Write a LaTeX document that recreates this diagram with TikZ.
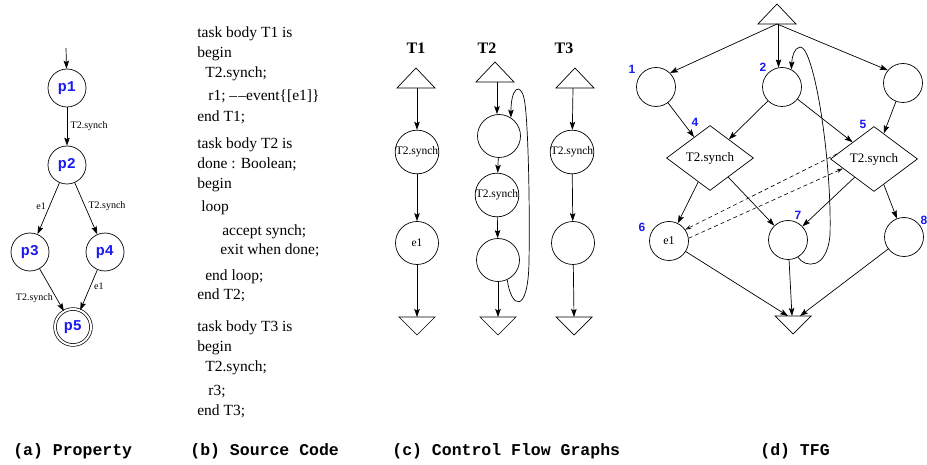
\documentclass[tikz,border=0pt]{standalone}
\usepackage{fontspec}
\setmainfont{Liberation Serif}
\setmonofont{Liberation Mono}
\newfontfamily\numfont{Liberation Sans}
\usetikzlibrary{arrows.meta,shapes.geometric}
\definecolor{stateblue}{RGB}{25,25,240}
\begin{document}
\begin{tikzpicture}[x=1pt,y=-1pt,line width=0.7pt,
  arr/.style={-{Stealth[length=8pt,width=5.5pt,inset=1.5pt]}},
  dasharr/.style={dash pattern=on 4pt off 3pt,-{Stealth[open,length=6pt,width=4pt]},line width=0.6pt},
  pnode/.style={circle,draw,minimum size=38pt,inner sep=0pt,text=stateblue,
    font=\ttfamily\bfseries\fontsize{15}{15}\selectfont},
  cnode/.style={circle,draw,minimum size=43pt,inner sep=0pt,font=\fontsize{11.5}{11.5}\selectfont},
  tnode/.style={circle,draw,minimum size=39pt,inner sep=0pt,font=\fontsize{12}{12}\selectfont},
  dnode/.style={diamond,draw,minimum width=87pt,minimum height=65pt,inner sep=0pt,
    font=\fontsize{13}{13}\selectfont},
  num/.style={text=stateblue,inner sep=0pt,font=\numfont\bfseries\fontsize{12}{12}\selectfont},
  elab/.style={font=\fontsize{10}{10}\selectfont},
  code/.style={anchor=base west,inner sep=0pt,font=\fontsize{15.5}{15.5}\selectfont},
  captext/.style={anchor=base west,inner sep=0pt,font=\ttfamily\bfseries\fontsize{16.5}{16.5}\selectfont},
  hdr/.style={font=\bfseries\fontsize{16}{16}\selectfont},
  uptri/.pic={\draw (-19,0) -- (0,-20) -- (19,0) -- cycle;},
  downtri/.pic={\draw (-18,0) -- (0,18) -- (18,0) -- cycle;}]

\useasboundingbox (0,0) rectangle (927,465);

% ---------- (a) property automaton ----------
\coordinate (pin) at (66,48);
\node[pnode] (p1) at (67,88) {p1};
\node[pnode] (p2) at (67,165) {p2};
\node[pnode] (p3) at (30,252) {p3};
\node[pnode] (p4) at (105,252) {p4};
\node[pnode,double,double distance=2pt,minimum size=36pt] (p5) at (73,327) {p5};
\draw[arr] (pin) -- (p1);
\draw[arr] (p1) -- node[elab,right] {T2.synch} (p2);
\draw[arr] (p2) -- node[elab,left,pos=0.45] {e1} (p3);
\draw[arr] (p2) -- node[elab,right,pos=0.45] {T2.synch} (p4);
\draw[arr] (p3) -- node[elab,left,pos=0.7] {T2.synch} (p5);
\draw[arr] (p4) -- node[elab,right,pos=0.4] {e1} (p5);

% ---------- (b) source code ----------
\node[code] (l1)  at (197,38)  {task body T1 is};
\node[code] (l2)  at (197,58)  {begin};
\node[code] (l3)  at (205,78)  {T2.synch;};
\node[code] (l4)  at (208,101) {r1; \textendash\kern1.2pt\textendash event\{[e1]\}};
\node[code] (l5)  at (197,122) {end T1;};
\node[code] (l6)  at (197,149) {task body T2 is};
\node[code] (l7)  at (197,169) {done : Boolean;};
\node[code] (l8)  at (197,189) {begin};
\node[code] (l9)  at (201,212) {loop};
\node[code] (l10) at (222,236) {accept synch;};
\node[code] (l11) at (220,255) {exit when done;};
\node[code] (l12) at (205,280) {end loop;};
\node[code] (l13) at (197,300) {end T2;};
\node[code] (l14) at (197,331) {task body T3 is};
\node[code] (l15) at (197,351) {begin};
\node[code] (l16) at (205,371) {T2.synch;};
\node[code] (l17) at (208,395) {r3;};
\node[code] (l18) at (197,415) {end T3;};

% ---------- (c) control flow graphs ----------
\node[hdr] (h1) at (416,48) {T1};
\node[hdr] (h2) at (487,48) {T2};
\node[hdr] (h3) at (564,48) {T3};
\pic at (416,88) {uptri};
\pic at (495,82) {uptri};
\pic at (575,88) {uptri};
\coordinate (s1) at (417,88);
\coordinate (s2) at (497,82);
\coordinate (s3) at (573,88);
\pic at (417,317) {downtri};
\pic at (498,317) {downtri};
\pic at (574,317) {downtri};
\coordinate (f1) at (417,317);
\coordinate (f2) at (498,317);
\coordinate (f3) at (574,317);

\node[cnode] (a1) at (417,152) {T2.synch};
\node[cnode] (a2) at (417,243) {e1};
\node[cnode] (b1) at (499,136) {};
\node[cnode] (b2) at (497,195) {T2.synch};
\node[cnode] (b3) at (498,260) {};
\node[cnode] (c1) at (572,152) {T2.synch};
\node[cnode] (c2) at (573,243) {};

\draw[arr] (s1) -- (a1);
\draw[arr] (a1) -- (a2);
\draw[arr] (a2) -- (f1);
\draw[arr] (s2) -- (s2 |- b1.north);
\draw[arr] (b1) -- (b2);
\draw[arr] (b2) -- (b3);
\draw[arr] (b3) -- (f2);
\draw[arr] (b3.-65) .. controls (511,308) and (528,316) .. (529,262)
  .. controls (530,200) and (528,115) .. (524,98)
  .. controls (520,82) and (511,88) .. (b1.57);
\draw[arr] (s3) -- (c1);
\draw[arr] (c1) -- (c2);
\draw[arr] (c2) -- (f3);

% ---------- (d) task flow graph ----------
\pic at (777,24) {uptri};
\coordinate (tt) at (777,24);
\pic at (793,316) {downtri};
\coordinate (bl) at (788,316);
\coordinate (bm) at (792,316);
\coordinate (br) at (800,316);

\node[tnode] (n1) at (656,87) {};
\node[tnode] (n2) at (782,87) {};
\node[tnode] (n3) at (903,83) {};
\node[dnode] (n4) at (710,158) {T2.synch};
\node[dnode] (n5) at (874,159) {T2.synch};
\node[tnode] (n6) at (669,241) {e1};
\node[tnode] (n7) at (788,240) {};
\node[tnode] (n8) at (904,237) {};

\node[num] (k1) at (632,69) {1};
\node[num] (k2) at (763,67) {2};
\node[num] (k3) at (932,68) {3};
\node[num] (k4) at (695,122) {4};
\node[num] (k5) at (863,124) {5};
\node[num] (k6) at (642,227) {6};
\node[num] (k7) at (798,215) {7};
\node[num] (k8) at (924,220) {8};

\draw[arr] (tt) -- (n1.45);
\draw[arr] (n2.100 |- tt) -- (n2.100);
\draw[arr] (tt) -- (n3.140);
\draw[arr] (n1) -- (n4);
\draw[arr] (n2) -- (n4);
\draw[arr] (n2) -- (n5);
\draw[arr] (n3) -- (n5);
\draw[arr] (n4) -- (n6);
\draw[arr] (n4) -- (n7);
\draw[arr] (n5) -- (n7);
\draw[arr] (n5) -- (n8);
\draw[arr] (n6) -- (bl);
\draw[arr] (n7) -- (bm);
\draw[arr] (n8) -- (br);
\draw[arr] (n7.-60) .. controls (805,268) and (827,270) .. (830,235)
  .. controls (832,160) and (814,46) .. (800,47)
  .. controls (794,48) and (792,57) .. (n2.62);
\draw[dasharr] (n5.172) -- (n6.35);
\draw[dasharr] (n6.8) -- (n5.197);

% ---------- captions ----------
\node[captext] (ca) at (13,455)  {(a) Property};
\node[captext] (cb) at (190,455) {(b) Source Code};
\node[captext] (cc) at (392,455) {(c) Control Flow Graphs};
\node[captext] (cd) at (760,455) {(d) TFG};
\end{tikzpicture}
\end{document}
